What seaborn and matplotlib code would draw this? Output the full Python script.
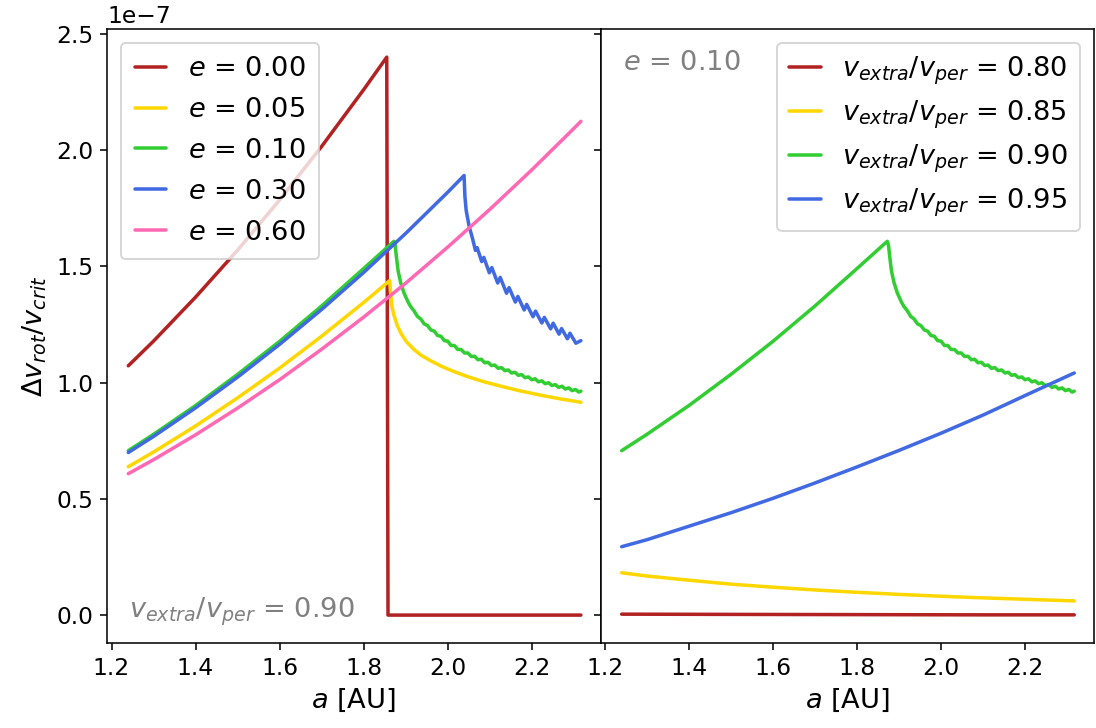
import numpy as np
import pandas as pd
import matplotlib
matplotlib.use("Agg")
import matplotlib.pyplot as plt
import seaborn as sns

# Delta v_rot / v_crit values below are in units of SCALE
SCALE = 1e-7

# ---- left panel: v_extra / v_per = 0.90, different eccentricities ----
a_e000 = [1.24, 1.30, 1.40, 1.50, 1.60, 1.70, 1.80, 1.855, 1.858, 2.00, 2.317]
v_e000 = [1.072, 1.178, 1.367, 1.569, 1.785, 2.015, 2.259, 2.399, 0.0, 0.0, 0.0]

a_e005 = [1.24, 1.30, 1.40, 1.50, 1.60, 1.70, 1.80, 1.862, 1.864, 1.867, 1.872,
          1.880, 1.890, 1.902, 1.918, 1.936, 1.958, 1.985, 2.015, 2.048, 2.085,
          2.125, 2.170, 2.220, 2.270, 2.317]
v_e005 = [0.638, 0.701, 0.813, 0.934, 1.062, 1.199, 1.344, 1.438, 1.390, 1.330, 1.290,
          1.245, 1.208, 1.175, 1.145, 1.118, 1.095, 1.070, 1.047, 1.025, 1.004,
          0.985, 0.965, 0.946, 0.929, 0.915]

a_e010 = [1.24, 1.30, 1.40, 1.50, 1.60, 1.70, 1.80, 1.872, 1.875, 1.878, 1.882,
          1.888, 1.896, 1.906, 1.912,
          1.920, 1.928, 1.936, 1.944, 1.952, 1.960, 1.968, 1.976, 1.984, 1.992,
          2.000, 2.008, 2.016, 2.024, 2.032, 2.040, 2.048, 2.056, 2.064, 2.072,
          2.080, 2.088, 2.096, 2.104, 2.112, 2.120, 2.128, 2.136, 2.144, 2.152,
          2.160, 2.168, 2.176, 2.184, 2.192, 2.200, 2.208, 2.216, 2.224, 2.232,
          2.240, 2.248, 2.256, 2.264, 2.272, 2.280, 2.288, 2.296, 2.304, 2.312,
          2.317]
v_e010 = [0.707, 0.777, 0.901, 1.035, 1.177, 1.329, 1.490, 1.607, 1.590, 1.540, 1.480,
          1.430, 1.385, 1.345, 1.326,
          1.308, 1.284, 1.273, 1.252, 1.245, 1.226, 1.221, 1.202, 1.199, 1.180,
          1.178, 1.159, 1.159, 1.142, 1.142, 1.127, 1.127, 1.112, 1.113, 1.098,
          1.100, 1.085, 1.087, 1.073, 1.075, 1.061, 1.064, 1.051, 1.054, 1.041,
          1.044, 1.031, 1.034, 1.021, 1.024, 1.012, 1.016, 1.003, 1.007, 0.995,
          0.999, 0.987, 0.991, 0.979, 0.984, 0.972, 0.977, 0.965, 0.970, 0.959,
          0.963]

a_e030 = [1.24, 1.30, 1.40, 1.50, 1.60, 1.70, 1.80, 1.90, 2.00, 2.039, 2.041,
          2.044, 2.051, 2.059,
          2.066, 2.070, 2.081, 2.086, 2.099, 2.105, 2.119, 2.125, 2.140, 2.146,
          2.161, 2.167, 2.182, 2.188, 2.203, 2.209, 2.224, 2.230, 2.245, 2.251,
          2.265, 2.271, 2.285, 2.291, 2.305, 2.317]
v_e030 = [0.699, 0.768, 0.891, 1.023, 1.164, 1.314, 1.473, 1.641, 1.818, 1.890, 1.800,
          1.740, 1.672, 1.620,
          1.568, 1.580, 1.520, 1.538, 1.472, 1.494, 1.428, 1.452, 1.384, 1.408,
          1.346, 1.370, 1.312, 1.336, 1.283, 1.307, 1.256, 1.280, 1.231, 1.255,
          1.208, 1.232, 1.188, 1.212, 1.169, 1.180]

a_e060 = [1.24, 1.30, 1.40, 1.50, 1.60, 1.70, 1.80, 1.90, 2.00, 2.10, 2.20, 2.30, 2.317]
v_e060 = [0.608, 0.668, 0.775, 0.890, 1.012, 1.143, 1.281, 1.427, 1.582, 1.744,
          1.914, 2.092, 2.123]

# ---- right panel: e = 0.10, different v_extra / v_per ----
a_vx080 = [1.24, 1.50, 1.80, 2.10, 2.317]
v_vx080 = [0.004, 0.003, 0.002, 0.001, 0.001]

a_vx085 = [1.24, 1.30, 1.40, 1.50, 1.60, 1.70, 1.80, 1.90, 2.00, 2.10, 2.20, 2.317]
v_vx085 = [0.182, 0.168, 0.150, 0.133, 0.120, 0.108, 0.098, 0.089, 0.081, 0.074,
           0.068, 0.061]

a_vx090 = a_e010
v_vx090 = v_e010

a_vx095 = [1.24, 1.30, 1.40, 1.50, 1.60, 1.70, 1.80, 1.90, 2.00, 2.10, 2.20, 2.317]
v_vx095 = [0.294, 0.324, 0.382, 0.440, 0.502, 0.568, 0.637, 0.708, 0.782, 0.860,
           0.944, 1.041]

left_labels = [r"$e$ = 0.00", r"$e$ = 0.05", r"$e$ = 0.10", r"$e$ = 0.30", r"$e$ = 0.60"]
right_labels = [r"$v_{extra}/v_{per}$ = 0.80", r"$v_{extra}/v_{per}$ = 0.85",
                r"$v_{extra}/v_{per}$ = 0.90", r"$v_{extra}/v_{per}$ = 0.95"]
colors_left = ["firebrick", "gold", "limegreen", "royalblue", "hotpink"]
colors_right = ["firebrick", "gold", "limegreen", "royalblue"]

sns.set_theme(style="ticks", rc={
    "axes.edgecolor": "black",
    "axes.linewidth": 0.8,
    "xtick.color": "black",
    "ytick.color": "black",
    "xtick.major.size": 3.5,
    "ytick.major.size": 3.5,
    "xtick.major.width": 0.8,
    "ytick.major.width": 0.8,
    "text.color": "black",
    "axes.labelcolor": "black",
    "lines.linewidth": 1.8,
})
plt.rcParams["font.family"] = ["DejaVu Sans"]
plt.rcParams["mathtext.fontset"] = "dejavusans"

DPI = 140
LW = 1.8
fig, (ax_l, ax_r) = plt.subplots(1, 2, sharey=True,
                                 figsize=(1096 / DPI, 728 / DPI), dpi=DPI)
fig.subplots_adjust(left=107.3 / 1096, right=1094 / 1096,
                    bottom=85 / 728, top=699 / 728, wspace=0)


def draw(ax, a, v, color, label):
    df = pd.DataFrame({"a": a, "dv": np.asarray(v, dtype=float) * SCALE})
    sns.lineplot(data=df, x="a", y="dv", ax=ax, color=color, lw=LW,
                 label=label, estimator=None, sort=False)


left_series = [(a_e000, v_e000), (a_e005, v_e005), (a_e010, v_e010),
               (a_e030, v_e030), (a_e060, v_e060)]
for (a, v), c, lab in zip(left_series, colors_left, left_labels):
    draw(ax_l, a, v, c, lab)

right_series = [(a_vx080, v_vx080), (a_vx085, v_vx085),
                (a_vx090, v_vx090), (a_vx095, v_vx095)]
for (a, v), c, lab in zip(right_series, colors_right, right_labels):
    draw(ax_r, a, v, c, lab)

for ax in (ax_l, ax_r):
    ax.set_xlim(1.19, 2.364)
    ax.set_xticks([1.2, 1.4, 1.6, 1.8, 2.0, 2.2])
    ax.tick_params(labelsize=12)
    ax.set_xlabel(r"$a$ [AU]", fontsize=14)
    for side in ("left", "right", "top", "bottom"):
        ax.spines[side].set_visible(True)

ax_l.set_ylim(-0.12 * SCALE, 2.52 * SCALE)
ax_l.set_ylabel(r"$\Delta v_{rot}/v_{crit}$", fontsize=14)
ax_r.set_ylabel("")
ax_l.yaxis.get_offset_text().set_fontsize(12)

ax_l.legend(loc="upper left", fontsize=14, handlelength=1.15,
            labelspacing=0.545, borderpad=0.5)
ax_r.legend(loc="upper right", fontsize=14, handlelength=1.15,
            labelspacing=0.43, borderpad=0.45)

ax_l.text(0.043, 0.041, r"$v_{extra}/v_{per}$ = 0.90", transform=ax_l.transAxes,
          color="gray", fontsize=14, ha="left", va="baseline")
ax_r.text(0.045, 0.933, r"$e$ = 0.10", transform=ax_r.transAxes,
          color="gray", fontsize=14, ha="left", va="baseline")

fig.savefig("out.png", dpi=DPI)
